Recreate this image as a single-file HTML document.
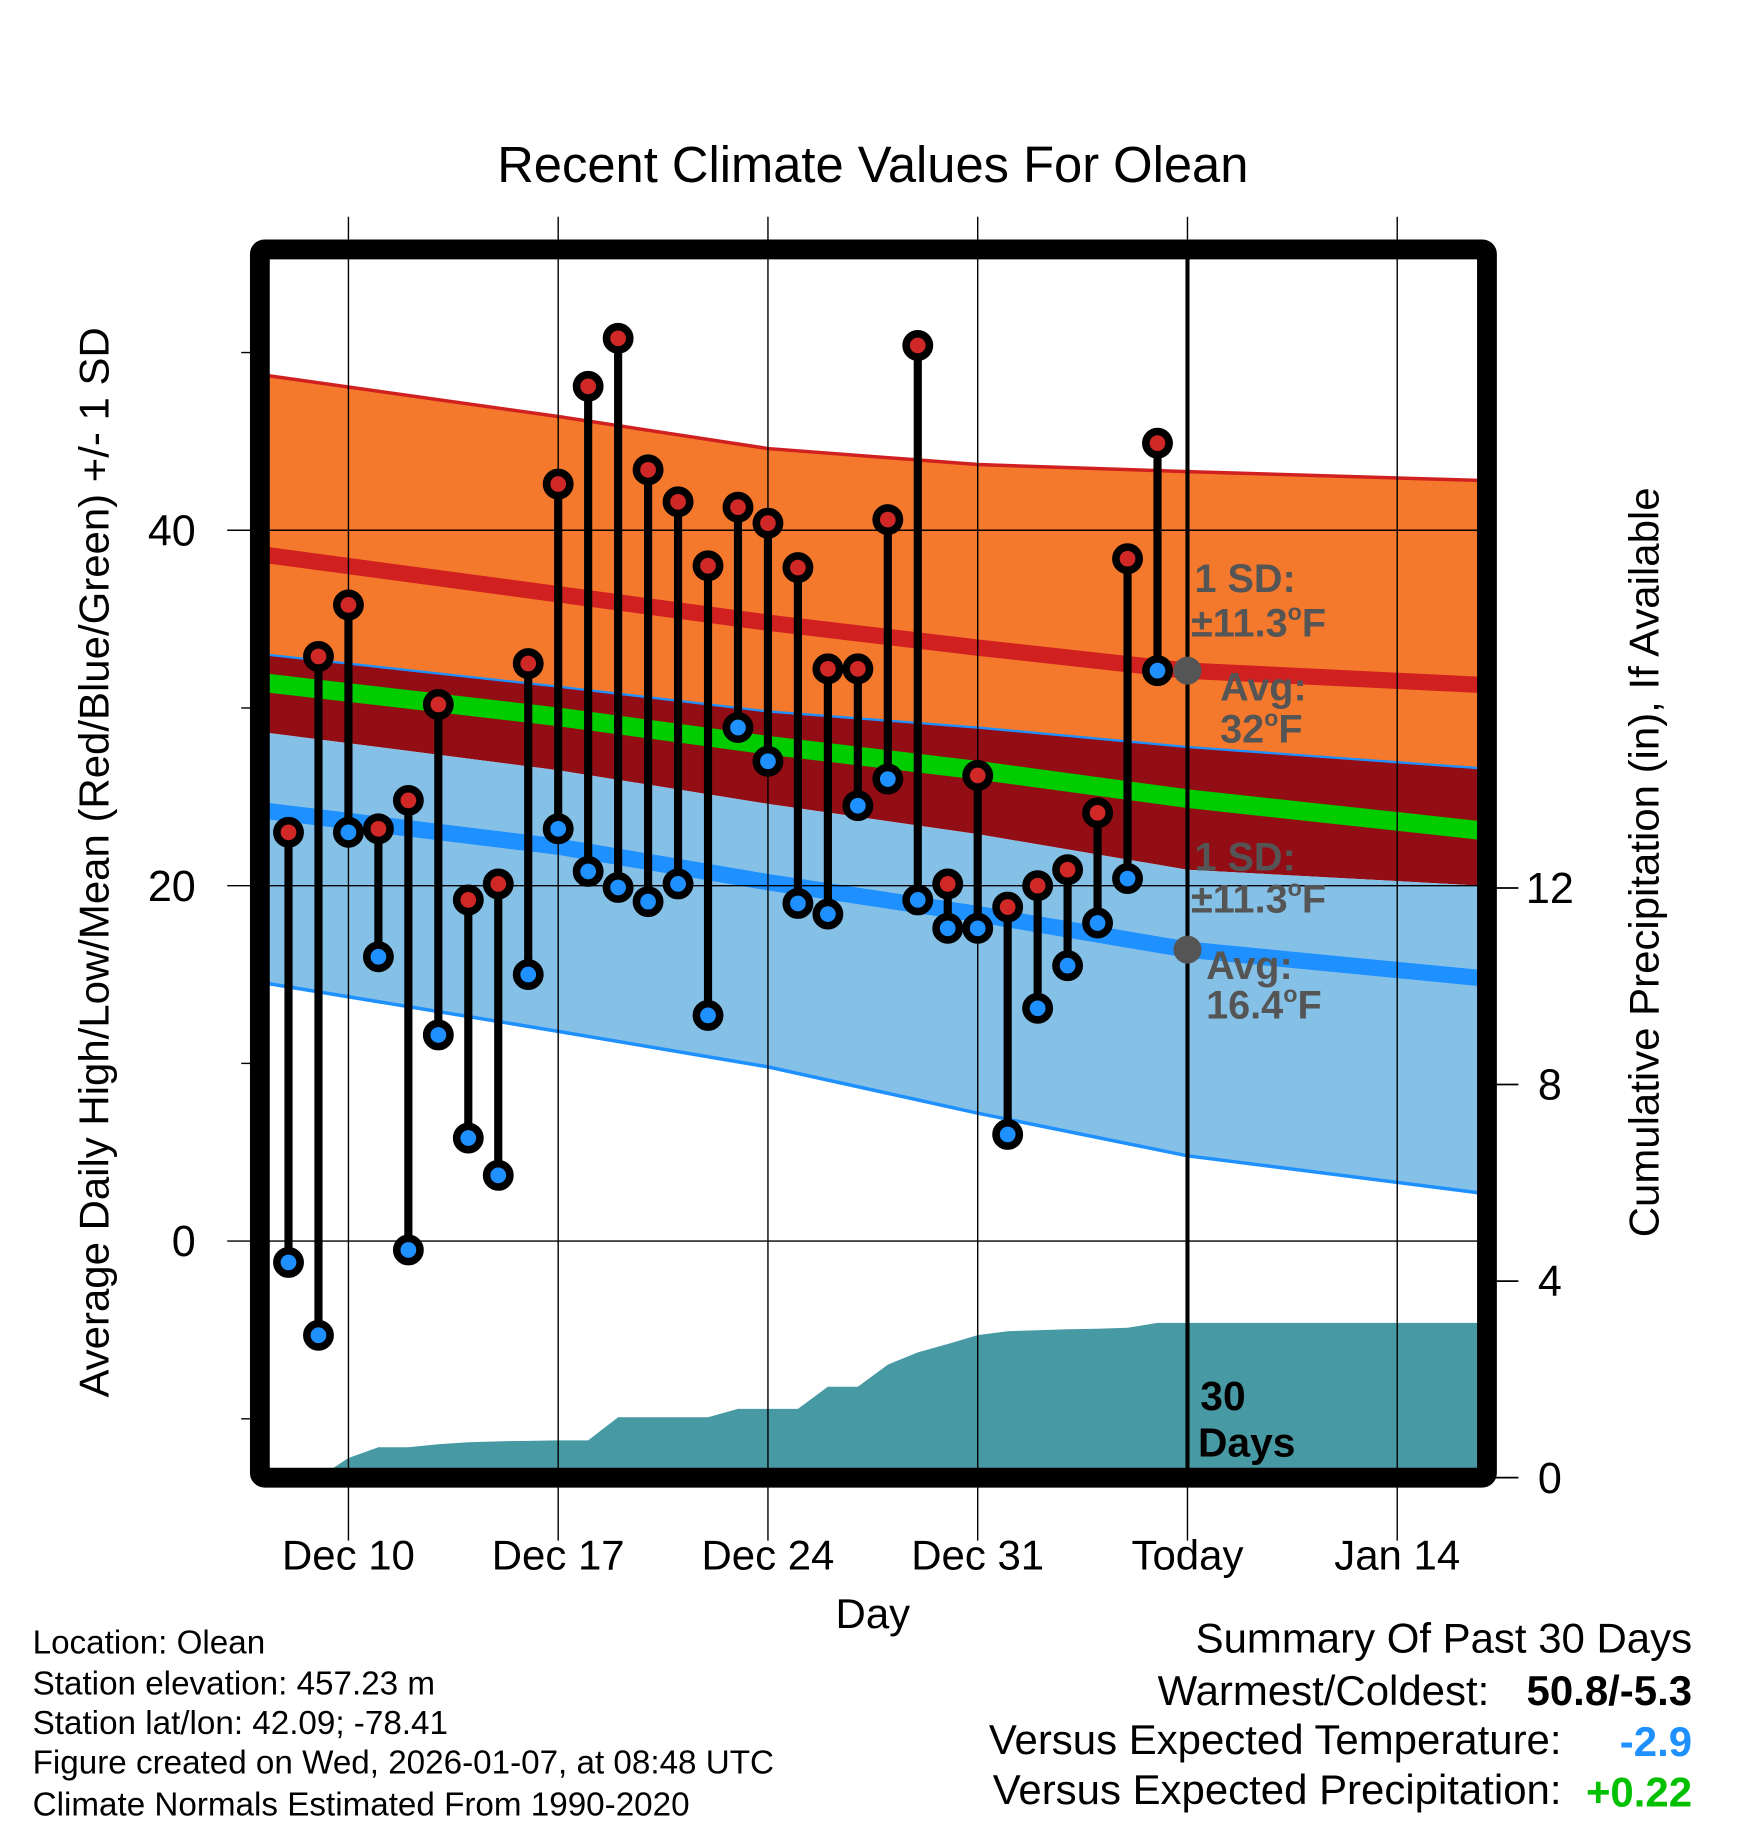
<!DOCTYPE html>
<html><head><meta charset="utf-8"><style>
html,body{margin:0;padding:0;background:#fff}
svg{display:block;font-family:"Liberation Sans",Arial,sans-serif}
</style></head><body>
<svg id="chart" width="1748" height="1828" viewBox="0 0 1500 1568.6" xmlns="http://www.w3.org/2000/svg">
<defs><clipPath id="plotclip"><rect x="231" y="222" width="1037" height="1038"/></clipPath></defs>
<rect width="1500" height="1569" fill="#fff"/>
<g id="fills" clip-path="url(#plotclip)"></g>
<g id="grid"></g>
<g id="marks"></g>
<g id="frame"></g>
<g id="labels"></g>
</svg>
<script>
const dayLabels = ["Dec 10","Dec 17","Dec 24","Dec 31","Today","Jan 14"];
const dayLabelPos = [0,7,14,21,28,35];
const obsDays = [-2,-1,0,1,2,3,4,5,6,7,8,9,10,11,12,13,14,15,16,17,18,19,20,21,22,23,24,25,26,27];
const highs = [23.0,32.9,35.8,23.2,24.8,30.2,19.2,20.1,32.5,42.6,48.1,50.8,43.4,41.6,38.0,41.3,40.4,37.9,32.2,32.2,40.6,50.4,20.1,26.2,18.8,20.0,20.9,24.1,38.4,44.9];
const lows = [-1.2,-5.3,23.0,16.0,-0.5,11.6,5.8,3.7,15.0,23.2,20.8,19.9,19.1,20.1,12.7,28.9,27.0,19.0,18.4,24.5,26.0,19.2,17.6,17.6,6.0,13.1,15.5,17.9,20.4,32.1];
const normDays = [-2.7,7,14,21,28,37.8];
const hiPlus = [48.7,46.4,44.6,43.7,43.3,42.8];
const hiAvg = [38.6,36.4,34.8,33.4,32.1,31.3];
const hiMinus = [33.0,31.2,29.8,28.9,27.8,26.6];
const meanT = [31.4,29.5,27.9,26.5,24.9,23.1];
const loPlus = [28.6,26.5,24.6,22.9,20.9,20.0];
const loAvg = [24.2,22.2,20.2,18.4,16.4,14.8];
const loMinus = [14.5,11.8,9.8,7.2,4.8,2.7];
const precipDays = [-1,0,1,2,3,4,5,6,7,8,9,10,11,12,13,14,15,16,17,18,19,20,21,22,23,24,25,26,27,38];
const precip = [0,0.4,0.62,0.62,0.68,0.72,0.74,0.75,0.76,0.76,1.23,1.23,1.23,1.23,1.4,1.4,1.4,1.85,1.85,2.3,2.55,2.72,2.9,2.98,3.0,3.02,3.03,3.05,3.15,3.15];
const yTicks = [0,20,40];
const yMinor = [-10,10,30,50];
const pTicks = [0,4,8,12];

const NS="http://www.w3.org/2000/svg";
const X = d => 299 + 25.714*d;
const Y = v => 1065 - 15.25*v;
const P = p => 1268 - 42.17*p;
function mk(tag, parent, attrs){const e=document.createElementNS(NS,tag);for(const k in attrs)e.setAttribute(k,attrs[k]);document.getElementById(parent).appendChild(e);return e;}
function pts(days, vals, f){return days.map((d,i)=>X(d).toFixed(1)+","+f(vals[i]).toFixed(1));}
function band(a,b){return pts(normDays,a,Y).concat(pts(normDays,b,Y).reverse()).join(" ");}

let e;
e=mk('polygon','fills',{points:band(hiPlus,hiMinus),fill:'#f5792c'});


e=mk('polygon','fills',{points:band(hiMinus,loPlus),fill:'#930d14'});


e=mk('polygon','fills',{points:band(loPlus,loMinus),fill:'#85c1e7'});


e=mk('polyline','fills',{points:pts(normDays,hiPlus,Y).join(" "),fill:'none',stroke:'#d02020','stroke-width':3});


e=mk('polyline','fills',{points:pts(normDays,hiMinus,Y).join(" "),fill:'none',stroke:'#1e90ff','stroke-width':2});


e=mk('polyline','fills',{points:pts(normDays,loMinus,Y).join(" "),fill:'none',stroke:'#1e90ff','stroke-width':3});


e=mk('polyline','fills',{points:pts(normDays,hiAvg,Y).join(" "),fill:'none',stroke:'#d02020','stroke-width':14});


e=mk('polyline','fills',{points:pts(normDays,meanT,Y).join(" "),fill:'none',stroke:'#00cc00','stroke-width':16});


e=mk('polyline','fills',{points:pts(normDays,loAvg,Y).join(" "),fill:'none',stroke:'#1e90ff','stroke-width':14});


const pp = pts(precipDays,precip,P);
pp.push(X(precipDays[precipDays.length-1]).toFixed(1)+","+P(0)); pp.push(X(precipDays[0]).toFixed(1)+","+P(0));
e=mk('polygon','fills',{points:pp.join(" "),fill:'#4799a3'});



dayLabelPos.forEach((d,i)=>{
  e=mk('line','grid',{x1:X(d),x2:X(d),y1:186,y2:1322,stroke:'#000','stroke-width':1.2});
  
  
  e=mk('text','labels',{x:X(d),y:1347,'font-size':36,'text-anchor':'middle',fill:'#000'});
  e.textContent=dayLabels[i];
  
  
});
yTicks.forEach(v=>{
  e=mk('line','grid',{x1:195,x2:1268,y1:Y(v),y2:Y(v),stroke:'#000','stroke-width':1.2});
  
  
  e=mk('text','labels',{x:168,y:Y(v)+13,'font-size':37,'text-anchor':'end',fill:'#000'});
  e.textContent=v;
  
  
});
yMinor.forEach(v=>{
  e=mk('line','grid',{x1:207,x2:216,y1:Y(v),y2:Y(v),stroke:'#000','stroke-width':1.2});
  
  
});
pTicks.forEach(p=>{
  e=mk('line','grid',{x1:1280,x2:1303,y1:P(p),y2:P(p),stroke:'#000','stroke-width':1.5});
  
  
  e=mk('text','labels',{x:1330,y:P(p)+13,'font-size':37,'text-anchor':'middle',fill:'#000'});
  e.textContent=p;
  
  
});
e=mk('line','grid',{x1:1019,x2:1019,y1:222,y2:1262,stroke:'#000','stroke-width':3.5});



obsDays.forEach((d,i)=>{
  e=mk('line','marks',{x1:X(d),x2:X(d),y1:Y(highs[i]),y2:Y(lows[i]),stroke:'#000','stroke-width':7});
  
  
});
obsDays.forEach((d,i)=>{
  e=mk('circle','marks',{cx:X(d),cy:Y(highs[i]),r:10,fill:'#d02727',stroke:'#000','stroke-width':6.5});
  
  
  e=mk('circle','marks',{cx:X(d),cy:Y(lows[i]),r:10,fill:'#1e90ff',stroke:'#000','stroke-width':6.5});
  
  
});
e=mk('circle','marks',{cx:1019,cy:Y(hiAvg[4]),r:12,fill:'#555'});


e=mk('circle','marks',{cx:1019,cy:Y(loAvg[4]),r:12,fill:'#555'});



e=mk('rect','frame',{x:223,y:214,width:1053,height:1054,fill:'none',stroke:'#000','stroke-width':17,rx:4});


</script>
<svg style="position:absolute;left:0;top:0" width="1748" height="1828" viewBox="0 0 1500 1568.6" xmlns="http://www.w3.org/2000/svg" font-family="Liberation Sans, Arial, sans-serif">
<text x="749" y="156" font-size="43.5" text-anchor="middle">Recent Climate Values For Olean</text>
<text transform="translate(93,740) rotate(-90)" font-size="36" text-anchor="middle">Average Daily High/Low/Mean (Red/Blue/Green) +/- 1 SD</text>
<text transform="translate(1423,740) rotate(-90)" font-size="36" text-anchor="middle">Cumulative Precipitation (in), If Available</text>
<text x="749" y="1397" font-size="36" text-anchor="middle">Day</text>
<g font-size="34" font-weight="bold" fill="#555">
<text x="1025" y="508">1 SD:</text>
<text x="1022" y="546">±11.3<tspan font-size="20" dy="-14">o</tspan><tspan dy="14">F</tspan></text>
<text x="1047" y="601">Avg:</text>
<text x="1047" y="637">32<tspan font-size="20" dy="-14">o</tspan><tspan dy="14">F</tspan></text>
</g>
<g font-size="34" font-weight="bold" fill="#555">
<text x="1025" y="747">1 SD:</text>
<text x="1022" y="783">±11.3<tspan font-size="20" dy="-14">o</tspan><tspan dy="14">F</tspan></text>
<text x="1035" y="840">Avg:</text>
<text x="1035" y="874">16.4<tspan font-size="20" dy="-14">o</tspan><tspan dy="14">F</tspan></text>
</g>
<g font-size="35" font-weight="bold" fill="#000">
<text x="1030" y="1210">30</text>
<text x="1028" y="1250">Days</text>
</g>
<g font-size="28.5" fill="#000">
<text x="28" y="1419">Location: Olean</text>
<text x="28" y="1454">Station elevation: 457.23 m</text>
<text x="28" y="1488">Station lat/lon: 42.09; -78.41</text>
<text x="28" y="1522">Figure created on Wed, 2026-01-07, at 08:48 UTC</text>
<text x="28" y="1558">Climate Normals Estimated From 1990-2020</text>
</g>
<g font-size="36" fill="#000" text-anchor="end">
<text x="1452" y="1418">Summary Of Past 30 Days</text>
<text x="1278" y="1463">Warmest/Coldest:</text>
<text x="1452" y="1463" font-weight="bold">50.8/-5.3</text>
<text x="1340" y="1505">Versus Expected Temperature:</text>
<text x="1452" y="1507" font-weight="bold" fill="#1e90ff">-2.9</text>
<text x="1340" y="1548">Versus Expected Precipitation:</text>
<text x="1452" y="1550" font-weight="bold" fill="#00c000">+0.22</text>
</g>
</svg>
</body></html>
